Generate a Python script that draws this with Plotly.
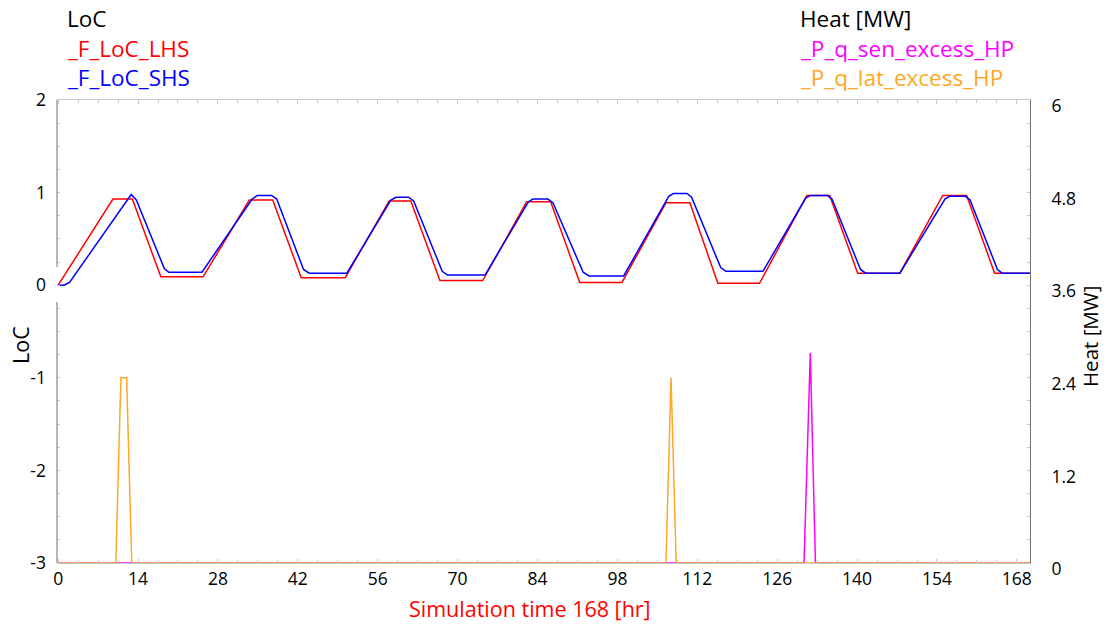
import plotly.graph_objects as go

# ---- data ----
red_t = [0, 9.6, 13.0, 18.0, 25.4, 33.5, 37.6, 42.6, 50.3, 58.0, 61.8, 66.9, 74.4,
         82.1, 86.3, 91.4, 98.8, 106.5, 110.7, 115.6, 122.9, 131.2, 135.2, 140.1,
         147.5, 155.0, 159.2, 164.1, 170.3]
red_v = [0, 0.93, 0.93, 0.09, 0.09, 0.92, 0.92, 0.08, 0.08, 0.91, 0.91, 0.05, 0.05,
         0.90, 0.90, 0.03, 0.03, 0.89, 0.89, 0.02, 0.02, 0.97, 0.97, 0.13,
         0.13, 0.97, 0.97, 0.13, 0.13]

blue_t = [0, 1.0, 2.0, 12.2, 12.8, 13.7, 18.6, 19.4, 25.2, 34.0, 34.9, 37.4, 38.3,
          43.0, 44.0, 50.6, 58.3, 59.2, 61.4, 62.3, 67.3, 68.2, 74.8, 82.4, 83.2,
          85.8, 86.7, 92.0, 93.0, 99.1, 107.0, 107.8, 110.2, 111.0, 116.1, 117.0,
          123.5, 131.0, 131.8, 134.8, 135.6, 140.6, 141.5, 147.5, 155.4, 156.2,
          159.0, 159.8, 164.6, 165.4, 170.3]
blue_v = [0, 0, 0.03, 0.94, 0.98, 0.92, 0.18, 0.14, 0.14, 0.93, 0.97, 0.97, 0.93,
          0.17, 0.13, 0.13, 0.92, 0.95, 0.95, 0.91, 0.15, 0.11, 0.11, 0.90, 0.93,
          0.93, 0.89, 0.14, 0.10, 0.10, 0.96, 0.99, 0.99, 0.95, 0.19, 0.15,
          0.15, 0.94, 0.97, 0.97, 0.93, 0.17, 0.13, 0.13, 0.93, 0.96,
          0.96, 0.92, 0.17, 0.13, 0.13]

sen_t = [0, 130.7, 131.8, 132.7, 170.3]
sen_v = [0, 0, 2.72, 0, 0]

lat_t = [0, 10.1, 11.0, 12.0, 12.9, 106.5, 107.4, 108.3, 170.3]
lat_v = [0, 0, 2.4, 2.4, 0, 0, 2.4, 0, 0]

x_ticks = [0, 14, 28, 42, 56, 70, 84, 98, 112, 126, 140, 154, 168]
y_ticks = [-3, -2, -1, 0, 1, 2]
y_tick_labels = ["-3", "-2", "-1", "0", "1", "2"]
y2_ticks = [0, 1.2, 2.4, 3.6, 4.8, 6]
y2_tick_labels = ["0", "1.2", "2.4", "3.6", "4.8", "6"]

FONT = "Open Sans, sans-serif"

fig = go.Figure()
fig.add_trace(go.Scatter(x=sen_t, y=sen_v, mode="lines", yaxis="y2",
                         line=dict(color="#FF00FF", width=1.5), name="_P_q_sen_excess_HP"))
fig.add_trace(go.Scatter(x=lat_t, y=lat_v, mode="lines", yaxis="y2",
                         line=dict(color="#FFA726", width=1.5), name="_P_q_lat_excess_HP"))
fig.add_trace(go.Scatter(x=red_t, y=red_v, mode="lines",
                         line=dict(color="#FF0000", width=1.5), name="_F_LoC_LHS"))
fig.add_trace(go.Scatter(x=blue_t, y=blue_v, mode="lines",
                         line=dict(color="#0000FF", width=1.5), name="_F_LoC_SHS"))

W, H = 1107, 630
L, R, T, B = 57, 77, 100, 67
pw, ph = W - L - R, H - T - B

def px(x):
    return (x - L) / pw

def py(y):
    return (H - B - y) / ph

fig.update_layout(
    width=W, height=H, showlegend=False,
    margin=dict(l=L, r=R, t=T, b=B, pad=0),
    paper_bgcolor="white", plot_bgcolor="white",
    font=dict(family=FONT, size=17.5, color="black"),
    xaxis=dict(range=[-0.2, 170.3], tickmode="array", tickvals=x_ticks,
               showgrid=False, zeroline=False, showline=True, linecolor="#c8c8c8",
               mirror="ticks", ticks="inside", ticklen=4, tickcolor="#c8c8c8",
               minor=dict(dtick=3.5, ticks="inside", ticklen=3, tickcolor="#c8c8c8"),
               ticklabelstandoff=0),
    yaxis=dict(range=[-3, 2], tickmode="array", tickvals=y_ticks, ticktext=y_tick_labels,
               showgrid=False, zeroline=False, showline=False,
               ticks="inside", ticklen=3, tickcolor="#c8c8c8",
               minor=dict(dtick=0.25, ticks="inside", ticklen=3, tickcolor="#c8c8c8"),
               ticklabelstandoff=10),
    yaxis2=dict(range=[0, 6], tickmode="array", tickvals=y2_ticks, ticktext=y2_tick_labels,
                overlaying="y", side="right", anchor="x",
                showgrid=False, zeroline=False, showline=True, linecolor="#707070",
                ticks="inside", ticklen=3, tickcolor="#c8c8c8",
                minor=dict(dtick=0.3, ticks="inside", ticklen=3, tickcolor="#c8c8c8"),
                ticklabelstandoff=17, ticklabelshift=6),
)

# left axis line (with the gap seen in the reference)
for y0, y1 in [(563, 302), (267, 100)]:
    fig.add_shape(type="line", xref="paper", yref="paper", x0=0, x1=0,
                  y0=py(y0), y1=py(y1), line=dict(color="#707070", width=1))

def ann(text, x, y, color="black", size=22.5, xanchor="left", angle=0):
    fig.add_annotation(text=text, xref="paper", yref="paper", x=px(x), y=py(y),
                       xanchor=xanchor, yanchor="middle", showarrow=False,
                       textangle=angle, font=dict(family=FONT, size=size, color=color))

ann("LoC", 65, 18)
ann("_F_LoC_LHS", 65, 48, color="#FF0000")
ann("_F_LoC_SHS", 65, 78, color="#0000FF")
ann("Heat [MW]", 798, 18)
ann("_P_q_sen_excess_HP", 798, 48, color="#FF00FF")
ann("_P_q_lat_excess_HP", 798, 78, color="#FFA726")
ann("Simulation time 168 [hr]", 530, 608, color="#FF0000", size=21.5, xanchor="center")
ann("LoC", 20, 345, size=21.5, xanchor="center", angle=-90)
ann("Heat [MW]", 1090, 337, size=20.5, xanchor="center", angle=-90)

fig.write_html("out.html")
